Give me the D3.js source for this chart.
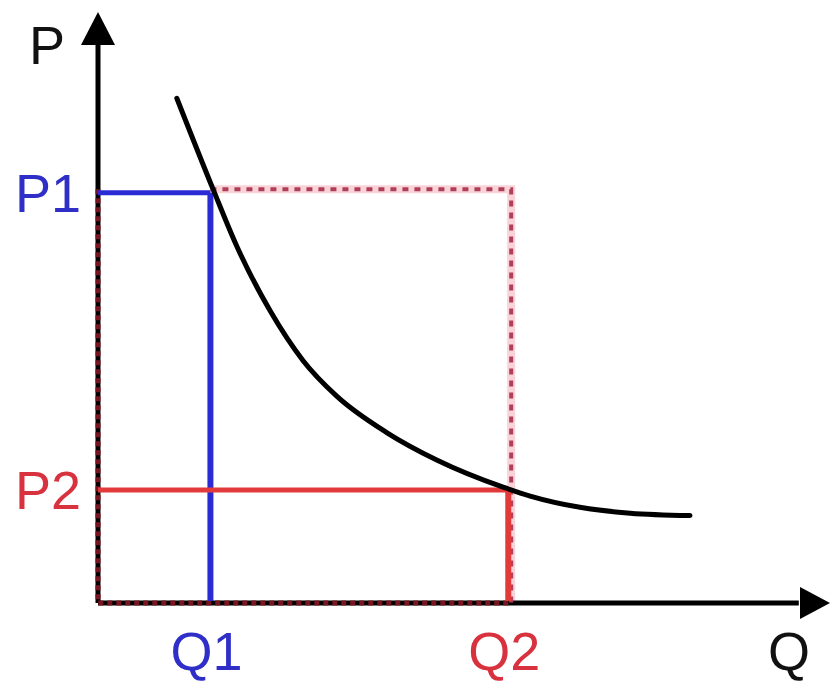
<!DOCTYPE html>
<html>
<head>
<meta charset="utf-8">
<script src="https://cdn.jsdelivr.net/npm/d3@7"></script>
<style>
  body { margin: 0; background: #fff; }
  text { font-family: "Liberation Sans", Arial, sans-serif; }
</style>
</head>
<body>
<div id="chart"></div>
<script>
// demand curve (quantity, price)
var curveQ = [10.8, 15.8, 19.0, 23.6, 28.1, 32.7, 39.6, 46.4, 55.5, 59.2, 66.0, 72.9, 81.1];
var curveP = [85.4, 69.9, 60.4, 49.4, 41.0, 35.0, 28.8, 24.2, 19.6, 18.1, 16.2, 15.2, 14.8];

// the two points on the curve
var pointNames = ["1", "2"];
var pointQ = [15.4, 56.2];
var pointP = [69.4, 19.1];
var pointColors = ["#2b2bd6", "#e23a3a"];
var labelColors = ["#2f2fc8", "#d8323f"];

var width = 831, height = 681;

var svg = d3.select("#chart")
  .append("svg")
    .attr("width", width)
    .attr("height", height);

// scales
var x = d3.scaleLinear().domain([0, 100]).range([98, 828]);
var y = d3.scaleLinear().domain([0, 100]).range([603, 12]);

var line = d3.line().x(function(d) { return x(d[0]); }).y(function(d) { return y(d[1]); });

// red dashed revenue rectangle (Q2 wide, P1 tall)
var dashPath = line([[pointQ[0], pointP[0] + 0.6], [pointQ[1] + 0.4, pointP[0] + 0.6], [pointQ[1] + 0.4, 0]]);

svg.append("path")
  .attr("d", dashPath)
  .attr("fill", "none")
  .attr("stroke", "#f9d3d8")
  .attr("stroke-width", 8);

// axes
svg.append("line")
  .attr("x1", x(0)).attr("y1", y(0))
  .attr("x2", x(0)).attr("y2", y(96))
  .attr("stroke", "#000").attr("stroke-width", 5);
svg.append("line")
  .attr("x1", x(0)).attr("y1", y(0))
  .attr("x2", x(96)).attr("y2", y(0))
  .attr("stroke", "#000").attr("stroke-width", 5);

// arrow heads
svg.append("path")
  .attr("d", "M" + x(0) + "," + y(100) + "L" + (x(0) - 17) + "," + (y(100) + 33) + "L" + (x(0) + 17) + "," + (y(100) + 33) + "Z")
  .attr("fill", "#000");
svg.append("path")
  .attr("d", "M" + (x(100) + 2) + "," + y(0) + "L" + (x(100) - 28) + "," + (y(0) - 16) + "L" + (x(100) - 28) + "," + (y(0) + 16) + "Z")
  .attr("fill", "#000");

// dashes on axes and rectangle
svg.append("path")
  .attr("d", line([[0, pointP[0] + 0.6], [0, 0], [pointQ[1], 0]]))
  .attr("fill", "none")
  .attr("stroke", "#7a1420")
  .attr("stroke-width", 5)
  .attr("stroke-dasharray", "5,4");

svg.append("path")
  .attr("d", dashPath)
  .attr("fill", "none")
  .attr("stroke", "#b0405a")
  .attr("stroke-width", 4)
  .attr("stroke-dasharray", "6,6");

// solid price and quantity lines
pointNames.forEach(function(n, i) {
  svg.append("line")
    .attr("x1", x(0)).attr("y1", y(pointP[i]))
    .attr("x2", x(pointQ[i])).attr("y2", y(pointP[i]))
    .attr("stroke", pointColors[i]).attr("stroke-width", 5);
  svg.append("line")
    .attr("x1", x(pointQ[i])).attr("y1", y(pointP[i]))
    .attr("x2", x(pointQ[i])).attr("y2", y(0) - 2)
    .attr("stroke", pointColors[i]).attr("stroke-width", 6);
});

// demand curve
var curveData = curveQ.map(function(q, i) { return [q, curveP[i]]; });
svg.append("path")
  .datum(curveData)
  .attr("d", line.curve(d3.curveMonotoneX))
  .attr("fill", "none")
  .attr("stroke", "#000")
  .attr("stroke-width", 5)
  .attr("stroke-linecap", "round");

// labels
var fs = 54;
svg.append("text")
  .attr("x", 47).attr("y", 64)
  .attr("text-anchor", "middle")
  .attr("font-size", fs)
  .attr("fill", "#111")
  .text("P");
svg.append("text")
  .attr("x", 789).attr("y", 670)
  .attr("text-anchor", "middle")
  .attr("font-size", fs)
  .attr("fill", "#111")
  .text("Q");

pointNames.forEach(function(n, i) {
  svg.append("text")
    .attr("x", x(0) - 17).attr("y", y(pointP[i]) + 19)
    .attr("text-anchor", "end")
    .attr("font-size", fs)
    .attr("fill", labelColors[i])
    .text("P" + n);
  svg.append("text")
    .attr("x", x(pointQ[i]) - 4).attr("y", 670)
    .attr("text-anchor", "middle")
    .attr("font-size", fs)
    .attr("fill", labelColors[i])
    .text("Q" + n);
});
</script>
</body>
</html>
